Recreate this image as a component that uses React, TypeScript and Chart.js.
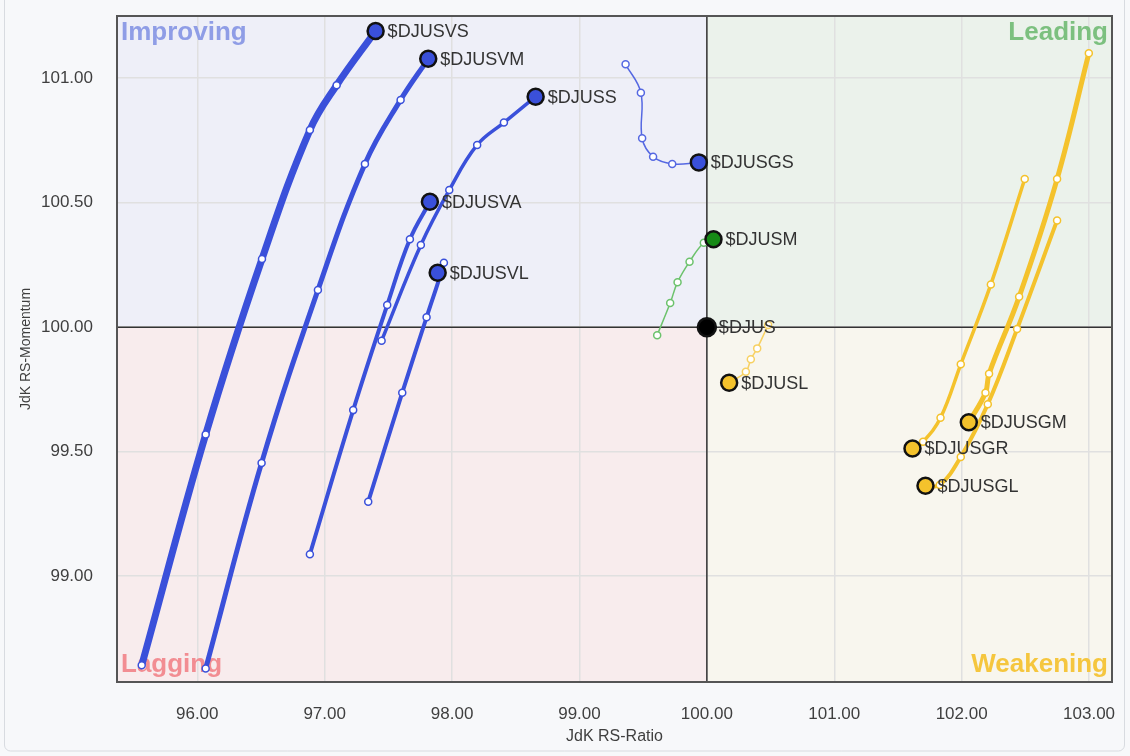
import React, { useEffect, useRef } from "react";
import { Chart, registerables } from "chart.js";

Chart.register(...registerables);

// ---- Data (JdK RS-Ratio = x, JdK RS-Momentum = y), oldest -> latest ----
const DJUSVS_X = [95.564, 96.066, 96.508, 96.884, 97.094, 97.4];
const DJUSVS_Y = [98.642, 99.569, 100.274, 100.792, 100.972, 101.19];
const DJUSVM_X = [96.066, 96.505, 96.947, 97.316, 97.596, 97.813];
const DJUSVM_Y = [98.629, 99.455, 100.149, 100.656, 100.913, 101.078];
const DJUSS_X = [97.447, 97.755, 97.978, 98.197, 98.407, 98.656];
const DJUSS_Y = [99.946, 100.33, 100.551, 100.732, 100.822, 100.926];
const DJUSVA_X = [96.884, 97.224, 97.491, 97.669, 97.826];
const DJUSVA_Y = [99.088, 99.667, 100.089, 100.353, 100.504];
const DJUSVL_X = [97.342, 97.609, 97.8, 97.936, 97.887];
const DJUSVL_Y = [99.299, 99.737, 100.04, 100.259, 100.219];
const DJUSGS_X = [99.362, 99.482, 99.492, 99.578, 99.728, 99.937];
const DJUSGS_Y = [101.056, 100.942, 100.759, 100.685, 100.656, 100.662];
const DJUSM_X = [99.61, 99.712, 99.77, 99.864, 99.976, 100.052];
const DJUSM_Y = [99.968, 100.097, 100.181, 100.263, 100.339, 100.353];
const DJUS_X = [100.0];
const DJUS_Y = [100.0];
const DJUSL_X = [100.481, 100.395, 100.345, 100.306, 100.175];
const DJUSL_Y = [100.009, 99.915, 99.871, 99.821, 99.777];
const DJUSGR_X = [102.495, 102.229, 101.993, 101.834, 101.697, 101.614];
const DJUSGR_Y = [100.595, 100.172, 99.851, 99.636, 99.54, 99.513];
const DJUSGM_X = [102.998, 102.749, 102.451, 102.215, 102.187, 102.056];
const DJUSGM_Y = [101.1, 100.595, 100.122, 99.813, 99.737, 99.618];
const DJUSGL_X = [102.749, 102.435, 102.205, 101.993, 101.828, 101.716];
const DJUSGL_Y = [100.429, 99.993, 99.691, 99.479, 99.366, 99.363];

const X_TICKS = [96, 97, 98, 99, 100, 101, 102, 103];
const Y_TICKS = [99, 99.5, 100, 100.5, 101];
const X_MIN = 95.37;
const X_MAX = 103.18;
const Y_MIN = 98.575;
const Y_MAX = 101.25;

const QUADRANT_LABELS = ["Improving", "Leading", "Lagging", "Weakening"];

const FONT = "'Liberation Sans', Arial, sans-serif";

const BLUE = "#3a50da";
const BLUE_THIN = "#5568e2";
const YELLOW = "#f4c22c";
const YELLOW_THIN = "#f7d163";
const GREEN_LINE = "#6cc26c";
const GREEN_HEAD = "#168a16";

type S = {
  label: string;
  xs: number[];
  ys: number[];
  line: string;
  head: string;
  width: number;
};

const SERIES: S[] = [
  { label: "$DJUS", xs: DJUS_X, ys: DJUS_Y, line: "#000", head: "#000", width: 1 },
  { label: "$DJUSVS", xs: DJUSVS_X, ys: DJUSVS_Y, line: BLUE, head: BLUE, width: 7 },
  { label: "$DJUSVM", xs: DJUSVM_X, ys: DJUSVM_Y, line: BLUE, head: BLUE, width: 5 },
  { label: "$DJUSS", xs: DJUSS_X, ys: DJUSS_Y, line: BLUE, head: BLUE, width: 3.5 },
  { label: "$DJUSVA", xs: DJUSVA_X, ys: DJUSVA_Y, line: BLUE, head: BLUE, width: 4 },
  { label: "$DJUSVL", xs: DJUSVL_X, ys: DJUSVL_Y, line: BLUE, head: BLUE, width: 4 },
  { label: "$DJUSGS", xs: DJUSGS_X, ys: DJUSGS_Y, line: BLUE_THIN, head: BLUE, width: 1.5 },
  { label: "$DJUSM", xs: DJUSM_X, ys: DJUSM_Y, line: GREEN_LINE, head: GREEN_HEAD, width: 1.5 },
  { label: "$DJUSL", xs: DJUSL_X, ys: DJUSL_Y, line: YELLOW_THIN, head: YELLOW, width: 1.5 },
  { label: "$DJUSGM", xs: DJUSGM_X, ys: DJUSGM_Y, line: YELLOW, head: YELLOW, width: 5 },
  { label: "$DJUSGR", xs: DJUSGR_X, ys: DJUSGR_Y, line: YELLOW, head: YELLOW, width: 3.5 },
  { label: "$DJUSGL", xs: DJUSGL_X, ys: DJUSGL_Y, line: YELLOW, head: YELLOW, width: 4 },
];

const rrgPlugin = {
  id: "rrg",
  beforeDraw(chart: any) {
    const { ctx, chartArea: a, scales } = chart;
    const cx = scales.x.getPixelForValue(100);
    const cy = scales.y.getPixelForValue(100);
    ctx.save();
    ctx.fillStyle = "#f7f8fa";
    ctx.fillRect(0, 0, chart.width, chart.height);
    ctx.strokeStyle = "#d8dbe0";
    ctx.lineWidth = 1;
    ctx.beginPath();
    ctx.roundRect(4.5, -10, 1120, 761, 6);
    ctx.stroke();
    ctx.fillStyle = "#eeeff8";
    ctx.fillRect(a.left, a.top, cx - a.left, cy - a.top);
    ctx.fillStyle = "#ebf2eb";
    ctx.fillRect(cx, a.top, a.right - cx, cy - a.top);
    ctx.fillStyle = "#f8eced";
    ctx.fillRect(a.left, cy, cx - a.left, a.bottom - cy);
    ctx.fillStyle = "#f8f6ee";
    ctx.fillRect(cx, cy, a.right - cx, a.bottom - cy);
    ctx.restore();
  },
  beforeDatasetsDraw(chart: any) {
    const { ctx, chartArea: a, scales } = chart;
    const cx = scales.x.getPixelForValue(100);
    const cy = scales.y.getPixelForValue(100);
    ctx.save();
    // quadrant labels
    ctx.font = `bold 26px ${FONT}`;
    ctx.textBaseline = "middle";
    ctx.fillStyle = "#8f9de6";
    ctx.textAlign = "left";
    ctx.fillText(QUADRANT_LABELS[0], a.left + 4, a.top + 17);
    ctx.fillStyle = "#7cc07f";
    ctx.textAlign = "right";
    ctx.fillText(QUADRANT_LABELS[1], a.right - 4, a.top + 17);
    ctx.fillStyle = "#f28d92";
    ctx.textAlign = "left";
    ctx.fillText(QUADRANT_LABELS[2], a.left + 4, a.bottom - 17);
    ctx.fillStyle = "#f5c63e";
    ctx.textAlign = "right";
    ctx.fillText(QUADRANT_LABELS[3], a.right - 4, a.bottom - 17);
    // center lines
    ctx.strokeStyle = "#333";
    ctx.lineWidth = 1.5;
    ctx.beginPath();
    ctx.moveTo(cx, a.top);
    ctx.lineTo(cx, a.bottom);
    ctx.moveTo(a.left, cy);
    ctx.lineTo(a.right, cy);
    ctx.stroke();
    // border
    ctx.strokeStyle = "#555";
    ctx.lineWidth = 2;
    ctx.strokeRect(a.left, a.top, a.right - a.left, a.bottom - a.top);
    ctx.restore();
  },
  afterDatasetsDraw(chart: any) {
    const { ctx } = chart;
    ctx.save();
    ctx.font = `18px ${FONT}`;
    ctx.fillStyle = "#333333";
    ctx.textBaseline = "middle";
    ctx.textAlign = "left";
    chart.data.datasets.forEach((ds: any, i: number) => {
      const meta = chart.getDatasetMeta(i);
      const pt = meta.data[meta.data.length - 1];
      if (!pt) return;
      ctx.fillText(ds.label, pt.x + 12, pt.y + 1);
    });
    ctx.restore();
  },
};

export default function App() {
  const ref = useRef<HTMLCanvasElement | null>(null);
  useEffect(() => {
    if (!ref.current) return;
    const datasets = SERIES.map((s) => {
      const n = s.xs.length;
      const last = (a: any, b: any) => s.xs.map((_, i) => (i === n - 1 ? a : b));
      return {
        label: s.label,
        data: s.xs.map((x, i) => ({ x, y: s.ys[i] })),
        showLine: true,
        borderColor: s.line,
        borderWidth: s.width,
        tension: 0.4,
        pointRadius: last(s.label === "$DJUS" ? 9 : 8, 3.5),
        pointBackgroundColor: last(s.head, "#ffffff"),
        pointBorderColor: last("#111111", s.line),
        pointBorderWidth: last(2.5, 1.5),
        pointHoverRadius: last(8, 3.5),
      };
    });
    const tickFont = { family: FONT, size: 17 };
    const chart = new Chart(ref.current, {
      type: "scatter",
      data: { datasets } as any,
      plugins: [rrgPlugin],
      options: {
        responsive: false,
        animation: false,
        layout: { padding: { top: 16, right: 18, left: 0, bottom: 0 } },
        plugins: { legend: { display: false }, tooltip: { enabled: false } },
        scales: {
          x: {
            type: "linear",
            min: X_MIN,
            max: X_MAX,
            afterBuildTicks: (s: any) => {
              s.ticks = X_TICKS.map((v) => ({ value: v }));
            },
            afterFit: (s: any) => {
              s.height = 74;
              s.paddingLeft = 0;
              s.paddingRight = 0;
            },
            ticks: {
              callback: (v: any) => Number(v).toFixed(2),
              font: tickFont,
              color: "#3f3f3f",
              padding: 22,
              maxRotation: 0,
              autoSkip: false,
            },
            grid: { color: "#e0e0e0", lineWidth: 1.5, drawTicks: false },
            border: { display: false },
            title: {
              display: true,
              text: "JdK RS-Ratio",
              font: { family: FONT, size: 16 },
              color: "#3f3f3f",
              padding: { top: 0, bottom: 10 },
            },
          },
          y: {
            type: "linear",
            min: Y_MIN,
            max: Y_MAX,
            afterBuildTicks: (s: any) => {
              s.ticks = Y_TICKS.map((v) => ({ value: v }));
            },
            afterFit: (s: any) => {
              s.width = 117;
              s.paddingTop = 0;
              s.paddingBottom = 0;
            },
            ticks: {
              callback: (v: any) => Number(v).toFixed(2),
              font: tickFont,
              color: "#3f3f3f",
              padding: 24,
              autoSkip: false,
            },
            grid: { color: "#e0e0e0", lineWidth: 1.5, drawTicks: false },
            border: { display: false },
            title: {
              display: true,
              text: "JdK RS-Momentum",
              font: { family: FONT, size: 14 },
              color: "#3f3f3f",
              padding: { top: 18, bottom: 0 },
            },
          },
        },
      } as any,
    });
    return () => chart.destroy();
  }, []);
  return (
    <div style={{ position: "fixed", left: 0, top: 0, width: 1130, height: 756 }}>
      <canvas ref={ref} width={1130} height={756} style={{ display: "block" }} />
    </div>
  );
}
